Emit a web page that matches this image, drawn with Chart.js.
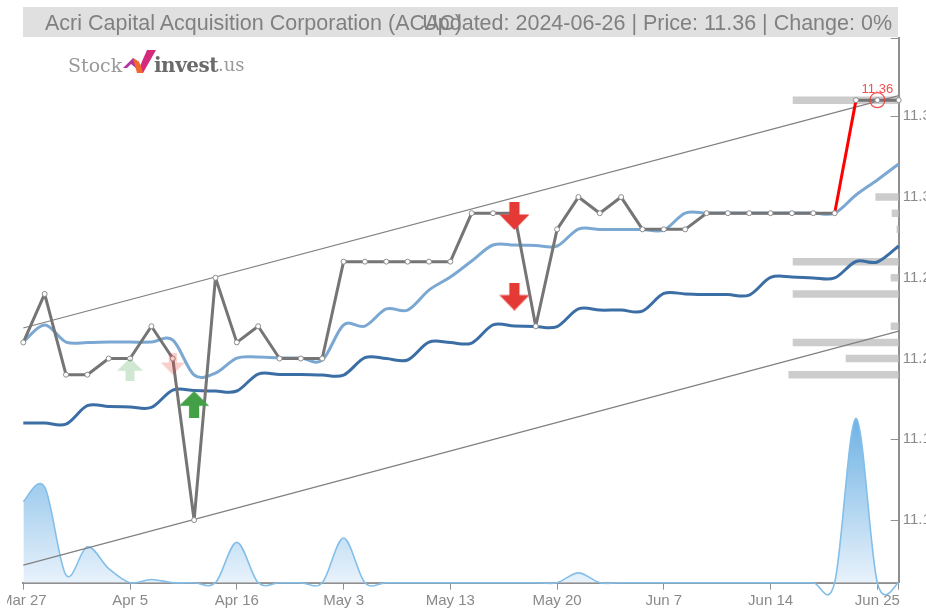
<!DOCTYPE html>
<html>
<head>
<meta charset="utf-8">
<title>ACAC</title>
<script src="https://cdn.jsdelivr.net/npm/chart.js@4"></script>
<style>
html, body { margin: 0; padding: 0; background: #fff; overflow: hidden; }
body { width: 926px; height: 610px; position: relative; font-family: "Liberation Sans", Arial, sans-serif; }
#titleBar { position: absolute; left: 23px; top: 7px; width: 875px; height: 30px; background: #e0e0e0; }
.title { position: absolute; top: 7px; height: 30px; line-height: 32px; font-size: 21.5px; color: #808080; white-space: nowrap; }
#titleLeft { left: 45px; }
#titleRight { right: 34px; }
#logo { position: absolute; left: 68px; top: 49px; height: 30px; white-space: nowrap; color: #8a8a8a; font-family: "DejaVu Serif", serif; }
#logo span { position: absolute; top: 2px; line-height: 28px; }
#logo svg { position: absolute; left: 55px; top: 1px; }
#myChart { position: absolute; left: 7px; top: 0; }
</style>
</head>
<body>
<div id="titleBar"></div>
<canvas id="myChart" width="919" height="610"></canvas>
<div class="title" id="titleLeft">Acri Capital Acquisition Corporation (ACAC)</div>
<div class="title" id="titleRight">Updated: 2024-06-26 | Price: 11.36 | Change: 0%</div>
<div id="logo">
    <span style="left:0;font-size:19px;color:#999999;font-weight:normal;">Stock</span>
    <svg width="34" height="25" viewBox="0 0 34 25">
        <polygon points="0,18 10,8 16,12 14,19 8,14 4,18" fill="#b5359f"/>
        <polygon points="24,0 33,0 20,23 14,23" fill="#d42a7c"/>
        <polygon points="10,8 16,12 18,16 20,23 14,23" fill="#f0682a"/>
    </svg>
    <span style="left:86px;font-size:20px;font-weight:bold;color:#6a6a6a;letter-spacing:-0.5px;">invest</span>
    <span style="left:150px;font-size:18px;color:#999999;">.us</span>
</div>

<script>
const categories = [
    'Mar 27', 'Mar 28', 'Apr 1', 'Apr 2', 'Apr 4', 'Apr 5', 'Apr 8', 'Apr 10', 'Apr 11', 'Apr 15',
    'Apr 16', 'Apr 17', 'Apr 22', 'Apr 25', 'Apr 30', 'May 3', 'May 6', 'May 7', 'May 8', 'May 10',
    'May 13', 'May 14', 'May 15', 'May 16', 'May 17', 'May 20', 'May 23', 'May 29', 'Jun 3', 'Jun 5',
    'Jun 7', 'Jun 10', 'Jun 11', 'Jun 12', 'Jun 13', 'Jun 14', 'Jun 17', 'Jun 18', 'Jun 20', 'Jun 24',
    'Jun 25', 'Jun 26'
];

const price = [
    11.21, 11.24, 11.19, 11.19, 11.20, 11.20, 11.22, 11.20, 11.10, 11.25,
    11.21, 11.22, 11.20, 11.20, 11.20, 11.26, 11.26, 11.26, 11.26, 11.26,
    11.26, 11.29, 11.29, 11.29, 11.22, 11.28, 11.30, 11.29, 11.30, 11.28,
    11.28, 11.28, 11.29, 11.29, 11.29, 11.29, 11.29, 11.29, 11.29, 11.36,
    11.36, 11.36
];

const shortAverage = [
    11.2102, 11.2208, 11.2102, 11.2100, 11.2102, 11.2102, 11.2102, 11.2115, 11.1898, 11.1910,
    11.2003, 11.2009, 11.2003, 11.2003, 11.1990, 11.2208, 11.2201, 11.2307, 11.2300, 11.2424,
    11.2505, 11.2604, 11.2703, 11.2703, 11.2700, 11.2697, 11.2802, 11.2799, 11.2799, 11.2799,
    11.2796, 11.2901, 11.2901, 11.2901, 11.2901, 11.2901, 11.2901, 11.2901, 11.2901, 11.3013,
    11.3106, 11.3205
];

const longAverage = [
    11.1601, 11.1601, 11.1594, 11.1708, 11.1703, 11.1700, 11.1697, 11.1805, 11.1802, 11.1799,
    11.1799, 11.1904, 11.1901, 11.1901, 11.1898, 11.1898, 11.2006, 11.2000, 11.1991, 11.2102,
    11.2099, 11.2096, 11.2208, 11.2201, 11.2198, 11.2198, 11.2307, 11.2300, 11.2300, 11.2294,
    11.2403, 11.2400, 11.2396, 11.2396, 11.2393, 11.2502, 11.2505, 11.2499, 11.2499, 11.2601,
    11.2598, 11.2697
];

const volume = [
    14.9, 17.6, 1.4, 6.6, 2.6, 0, 0.6, 0, 0, 0,
    7.4, 0, 0, 0, 0, 8.2, 0, 0, 0, 0,
    0, 0, 0, 0, 0, 0, 1.8, 0, 0, 0,
    0, 0, 0, 0, 0, 0, 0, 0, 0, 30.2,
    0, 0
];

const upperChannel = [{ x: 'Mar 27', y: 11.2189 }, { x: 'Jun 26', y: 11.3628 }];
const lowerChannel = [{ x: 'Mar 27', y: 11.0721 }, { x: 'Jun 26', y: 11.2170 }];

const profileLevels = [11.36, 11.30, 11.29, 11.28, 11.26, 11.25, 11.24, 11.22, 11.21, 11.20, 11.19];
const profileCounts = [10, 2.2, 0.66, 0.2, 10, 0.75, 10, 0.75, 10, 5, 10.4];

const buySignals = [{ x: 'Apr 11', y: 11.1715 }];
const sellSignals = [{ x: 'May 16', y: 11.2883 }, { x: 'May 16', y: 11.2384 }];
const weakBuySignals = [{ x: 'Apr 5', y: 11.1932 }];
const weakSellSignals = [{ x: 'Apr 10', y: 11.1969 }];
const lastMark = [{ x: 'Jun 25', y: 11.36 }];

const yTicks = [11.0612, 11.10, 11.15, 11.20, 11.25, 11.30, 11.35, 11.3983];
const yMin = 11.0612;
const yMax = 11.3983;
const xTickIndexes = [0, 5, 10, 15, 20, 25, 30, 35, 40, 41];

const tickColor = '#909090';
const ctx = document.getElementById('myChart').getContext('2d');

function makeArrow(color, w, h, up) {
    const c = document.createElement('canvas');
    c.width = w;
    c.height = h;
    const g = c.getContext('2d');
    if (!up) {
        g.translate(0, h);
        g.scale(1, -1);
    }
    const shaft = w * 0.17;
    const neck = h * 0.55;
    g.fillStyle = color;
    g.beginPath();
    g.moveTo(w / 2, 0);
    g.lineTo(w, neck);
    g.lineTo(w / 2 + shaft, neck);
    g.lineTo(w / 2 + shaft, h);
    g.lineTo(w / 2 - shaft, h);
    g.lineTo(w / 2 - shaft, neck);
    g.lineTo(0, neck);
    g.closePath();
    g.fill();
    return c;
}

// uniform catmull-rom, chart.js own spline is too flat on the spikes
const catmullPlugin = {
    id: 'catmull',
    afterDatasetsUpdate(chart) {
        chart.data.datasets.forEach((ds, i) => {
            if (!ds.catmull) return;
            const meta = chart.getDatasetMeta(i);
            const pts = meta.data;
            for (let k = 0; k < pts.length; k++) {
                const prev = pts[Math.max(k - 1, 0)];
                const next = pts[Math.min(k + 1, pts.length - 1)];
                pts[k].cp1x = pts[k].x - (next.x - prev.x) / 6;
                pts[k].cp1y = pts[k].y - (next.y - prev.y) / 6;
                pts[k].cp2x = pts[k].x + (next.x - prev.x) / 6;
                pts[k].cp2y = pts[k].y + (next.y - prev.y) / 6;
            }
            meta.dataset._pointsUpdated = true;
        });
    }
};

const lastLabelPlugin = {
    id: 'lastLabel',
    afterDatasetsDraw(chart) {
        const x = chart.scales.x.getPixelForValue(categories.indexOf(lastMark[0].x));
        const y = chart.scales.y.getPixelForValue(lastMark[0].y);
        const c = chart.ctx;
        c.save();
        c.font = '13px "Liberation Sans", Arial, sans-serif';
        c.fillStyle = '#f25050';
        c.textAlign = 'center';
        c.textBaseline = 'alphabetic';
        c.fillText(lastMark[0].y.toFixed(2), x, y - 7);
        c.restore();
    }
};

function areaGradient(context) {
    const chart = context.chart;
    if (!chart.chartArea) return '#cfe4f6';
    const s = chart.scales.yVolume;
    const g = chart.ctx.createLinearGradient(0, s.getPixelForValue(30.2), 0, s.getPixelForValue(0));
    g.addColorStop(0, 'rgba(110,178,228,1)');
    g.addColorStop(1, 'rgba(232,242,251,1)');
    return g;
}

const myChart = new Chart(ctx, {
    type: 'line',
    data: {
        labels: categories,
        datasets: [
            {
                label: 'Buy',
                data: buySignals,
                showLine: false,
                pointStyle: makeArrow('#43a047', 30, 27, true),
                pointRadius: 14
            },
            {
                label: 'Sell',
                data: sellSignals,
                showLine: false,
                pointStyle: makeArrow('#e53935', 30, 28, false),
                pointRadius: 14
            },
            {
                label: 'Weak buy',
                data: weakBuySignals,
                showLine: false,
                pointStyle: makeArrow('rgba(67,160,71,0.25)', 26, 23, true),
                pointRadius: 12
            },
            {
                label: 'Weak sell',
                data: weakSellSignals,
                showLine: false,
                pointStyle: makeArrow('rgba(229,57,53,0.25)', 24, 22, false),
                pointRadius: 12
            },
            {
                label: 'Last',
                data: lastMark,
                showLine: false,
                pointRadius: 7.5,
                pointBorderWidth: 1.2,
                pointBorderColor: 'rgba(240,60,60,0.9)',
                pointBackgroundColor: 'rgba(0,0,0,0)'
            },
            {
                label: 'Price',
                data: price,
                borderColor: '#757575',
                borderWidth: 3,
                borderJoinStyle: 'round',
                tension: 0,
                clip: false,
                pointRadius: 2.5,
                pointBorderWidth: 1,
                pointBorderColor: '#8c8c8c',
                pointBackgroundColor: '#ffffff',
                segment: {
                    borderColor: c => (c.p0DataIndex === 38 ? '#ff0000' : undefined)
                }
            },
            {
                label: 'Short average',
                data: shortAverage,
                catmull: true,
                tension: 0.4,
                capBezierPoints: false,
                borderColor: '#7ba8d3',
                borderWidth: 3,
                pointRadius: 0
            },
            {
                label: 'Long average',
                data: longAverage,
                catmull: true,
                tension: 0.4,
                capBezierPoints: false,
                borderColor: '#3b6ea5',
                borderWidth: 3,
                pointRadius: 0
            },
            {
                label: 'Upper channel',
                data: upperChannel,
                borderColor: '#808080',
                borderWidth: 1.2,
                pointRadius: 0
            },
            {
                label: 'Lower channel',
                data: lowerChannel,
                borderColor: '#808080',
                borderWidth: 1.2,
                pointRadius: 0
            },
            {
                type: 'bar',
                label: 'Price levels',
                indexAxis: 'y',
                xAxisID: 'xProfile',
                yAxisID: 'y',
                grouped: false, // otherwise the bars sit off-centre from their level
                data: profileLevels.map((lvl, i) => ({ x: profileCounts[i], y: lvl })),
                backgroundColor: '#cccccc',
                maxBarThickness: 7.5
            },
            {
                label: 'Volume',
                data: volume,
                yAxisID: 'yVolume',
                catmull: true,
                tension: 0.4,
                capBezierPoints: false,
                clip: false,
                fill: 'origin',
                borderColor: '#84bfea',
                borderWidth: 1.6,
                backgroundColor: areaGradient,
                pointRadius: 0
            }
        ]
    },
    options: {
        responsive: false,
        animation: false,
        layout: {
            autoPadding: false,
            padding: { left: 16.3, top: 38.3, right: 0, bottom: 0 }
        },
        plugins: {
            legend: { display: false },
            title: { display: false },
            tooltip: { enabled: false }
        },
        scales: {
            x: {
                type: 'category',
                offset: false,
                // labels hang off the left edge in the original, no room reserved for them
                beforeFit(scale) { scale._calculatePadding = () => {}; },
                afterFit(scale) { scale.height = 27.3; },
                afterBuildTicks(scale) {
                    scale.ticks = xTickIndexes.map(i => ({ value: i }));
                },
                border: { color: '#8f8f8f', width: 2 },
                grid: { drawOnChartArea: false, tickLength: 7, color: tickColor, offset: false },
                ticks: {
                    autoSkip: false,
                    maxRotation: 0,
                    minRotation: 0,
                    padding: 2,
                    color: '#8a8a8a',
                    font: { family: '"Liberation Sans", Arial, sans-serif', size: 15 },
                    callback(v) { return v === 41 ? '' : categories[v]; }
                }
            },
            y: {
                type: 'linear',
                position: 'right',
                offset: false,
                min: yMin,
                max: yMax,
                afterFit(scale) { scale.width = 27.3; },
                afterBuildTicks(scale) {
                    scale.ticks = yTicks.map(v => ({ value: v }));
                },
                border: { color: '#8f8f8f', width: 2 },
                grid: { drawOnChartArea: false, tickLength: -8, color: tickColor, offset: false },
                ticks: {
                    padding: 12,
                    color: '#8a8a8a',
                    font: { family: '"Liberation Sans", Arial, sans-serif', size: 15 },
                    callback(v) {
                        return v === yMin || v === yMax ? '' : v.toFixed(2);
                    }
                }
            },
            yVolume: {
                type: 'linear',
                display: false,
                min: 0,
                max: 100
            },
            xProfile: {
                type: 'linear',
                axis: 'x',
                display: false,
                reverse: true,
                min: 0,
                max: 82.6
            }
        }
    },
    plugins: [catmullPlugin, lastLabelPlugin]
});
</script>
</body>
</html>
